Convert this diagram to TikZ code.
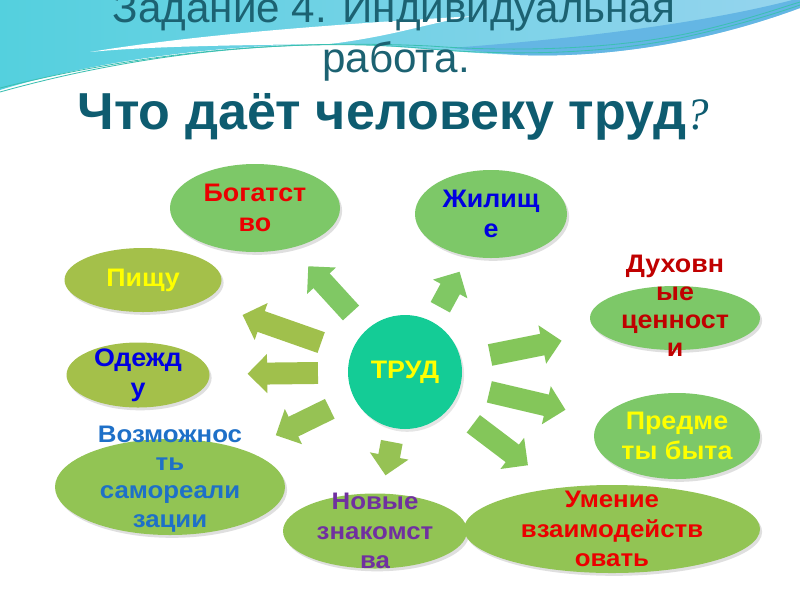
\documentclass[tikz,border=0pt]{standalone}
\usepackage{fontspec}
\setmainfont{Liberation Sans}
\newfontfamily\labelsans[FakeStretch=1.06]{Liberation Sans}
\newfontfamily\widesans[FakeStretch=1.08]{Liberation Sans}
\newfontfamily\qfont{Liberation Serif}
\usetikzlibrary{shapes.geometric,shadows,arrows.meta,calc}
\definecolor{wavel}{RGB}{84,208,222}
\definecolor{waver}{RGB}{150,212,238}
\definecolor{waveb}{RGB}{100,182,228}
\definecolor{waveline}{RGB}{60,192,178}
\definecolor{titlec}{RGB}{28,98,114}
\definecolor{titleb}{RGB}{14,92,112}
\definecolor{grA}{RGB}{125,200,104}
\definecolor{grB}{RGB}{146,196,84}
\definecolor{olA}{RGB}{164,192,74}
\definecolor{trudc}{RGB}{20,204,150}
\definecolor{arA}{RGB}{128,200,100}
\definecolor{arB}{RGB}{160,192,76}
\definecolor{arC}{RGB}{150,194,84}
\definecolor{arD}{RGB}{132,198,90}
\definecolor{redA}{RGB}{235,0,0}
\definecolor{redB}{RGB}{192,0,0}
\definecolor{bluA}{RGB}{0,0,225}
\definecolor{bluB}{RGB}{30,112,200}
\definecolor{yelA}{RGB}{255,255,0}
\definecolor{purA}{RGB}{112,48,160}
\begin{document}
\begin{tikzpicture}[x=0.025cm, y=-0.025cm,
  oval/.style={ellipse, inner sep=0pt,
    drop shadow={opacity=0.25, shadow xshift=1.5pt, shadow yshift=-2pt}},
  lbl/.style={font=\labelsans\bfseries\fontsize{18}{21.3}\selectfont, align=center, inner sep=0pt},
  wlbl/.style={font=\widesans\bfseries\fontsize{17}{21}\selectfont, align=center, inner sep=0pt},
  blk/.style={line width=15.6pt, -{Triangle[width=27pt,length=14pt]}}]
\def\pw{0.025cm}
\useasboundingbox (0,0) rectangle (800,600);
\clip (0,0) rectangle (800,600);
\fill[white] (0,0) rectangle (800,600);
% wave at the top
\shade[left color=wavel, right color=waver] (0,0) -- (800,0) -- (800,8)
  .. controls (700,45) and (600,58) .. (520,55)
  .. controls (440,52) and (400,45) .. (330,44)
  .. controls (200,45) and (80,65) .. (0,90) -- cycle;
\fill[waveb] (450,48) .. controls (560,40) and (700,25) .. (800,-2) -- (800,8)
  .. controls (700,45) and (600,58) .. (520,55)
  .. controls (490,53) and (470,50) .. (450,48) -- cycle;
\fill[white] (90,52) .. controls (200,34) and (340,24) .. (475,16)
  .. controls (430,22) and (400,35) .. (330,44)
  .. controls (250,45) and (150,46) .. (90,52) -- cycle;
\draw[waveline, line width=0.6pt] (0,92) .. controls (150,50) and (300,38) .. (420,48)
  .. controls (500,56) and (600,55) .. (680,38) .. controls (740,25) and (780,12) .. (800,5);
\draw[waveline, line width=0.6pt] (0,88) .. controls (160,48) and (300,40) .. (430,46)
  .. controls (510,52) and (610,50) .. (690,33) .. controls (740,22) and (780,8) .. (800,2);
% title
\node[anchor=base, text=titlec, font=\fontsize{30}{30}\selectfont] (t1) at (394,22) {Задание 4. Индивидуальная};
\node[anchor=base, text=titlec, font=\fontsize{30}{30}\selectfont] (t2) at (396,72) {работа.};
\node[anchor=base, text=titleb, font=\bfseries\fontsize{37}{37}\selectfont] (t3) at (393,129)
  {Что даёт человеку труд{\qfont\mdseries\itshape\fontsize{32}{32}\selectfont ?}};
% ovals
\node[oval, fill=grA, minimum width=170*\pw, minimum height=88*\pw] (bog) at (255,208) {};
\node[oval, fill=grA, minimum width=152*\pw, minimum height=88*\pw] (zhil) at (491,214) {};
\node[oval, fill=olA, minimum width=157*\pw, minimum height=64*\pw] (pish) at (143,280) {};
\node[oval, fill=olA, minimum width=143*\pw, minimum height=65*\pw] (odezh) at (138,375) {};
\node[oval, fill=grA, minimum width=170*\pw, minimum height=64*\pw] (duh) at (675,318) {};
\node[oval, fill=grA, minimum width=166*\pw, minimum height=86*\pw] (pred) at (677,436) {};
\node[oval, fill=grB, minimum width=230*\pw, minimum height=96*\pw] (voz) at (170,487) {};
\node[oval, fill=grB, minimum width=184*\pw, minimum height=75*\pw] (nov) at (375,531) {};
\node[oval, fill=grB, minimum width=296*\pw, minimum height=88*\pw] (um) at (612,529) {};
\node[circle, fill=trudc, minimum size=114*\pw, inner sep=0pt,
  drop shadow={opacity=0.2, shadow xshift=1.5pt, shadow yshift=-2pt}] (trud) at (405,372) {};
% labels
\node[lbl, text=redA] (bog-t) at (bog) {Богатст\\во};
\node[lbl, text=bluA] (zhil-t) at (zhil) {Жилищ\\е};
\node[lbl, text=yelA] (pish-t) at (pish) {Пищу};
\node[lbl, text=bluA] (odezh-t) at (odezh) {Одежд\\у};
\node[lbl, text=redB, font=\labelsans\bfseries\fontsize{18}{19.8}\selectfont] (duh-t) at (675,306) {Духовн\\ые\\ценност\\и};
\node[lbl, text=yelA] (pred-t) at (pred) {Предме\\ты быта};
\node[wlbl, text=bluB, font=\widesans\bfseries\fontsize{17}{20}\selectfont] (voz-t) at (170,479) {Возможнос\\ть\\самореали\\зации};
\node[wlbl, text=purA] (nov-t) at (nov) {Новые\\знакомст\\ва};
\node[wlbl, text=redA] (um-t) at (um) {Умение\\взаимодейств\\овать};
\node[lbl, text=yelA] (trud-t) at (trud) {ТРУД};
% arrows
\draw[blk, arA] ($(trud)!0.36!(bog)$) -- ($(trud)!0.645!(bog)$);
\draw[blk, arA] ($(trud)!0.41!(zhil)$) -- ($(trud)!0.635!(zhil)$);
\draw[blk, arB] ($(trud)!0.32!(pish)$) -- ($(trud)!0.62!(pish)$);
\draw[blk, arB] ($(trud)!0.326!(odezh)$) -- ($(trud)!0.59!(odezh)$);
\draw[blk, arC] ($(trud)!0.32!(voz)$) -- ($(trud)!0.55!(voz)$);
\draw[blk, arC] ($(trud)!0.44!(nov)$) -- ($(trud)!0.65!(nov)$);
\draw[blk, arD] ($(trud)!0.33!(um)$) -- ($(trud)!0.594!(um)$);
\draw[blk, arD] ($(trud)!0.31!(pred)$) -- ($(trud)!0.59!(pred)$);
\draw[blk, arD] ($(trud)!0.315!(duh)$) -- ($(trud)!0.58!(duh)$);
\end{tikzpicture}
\end{document}
